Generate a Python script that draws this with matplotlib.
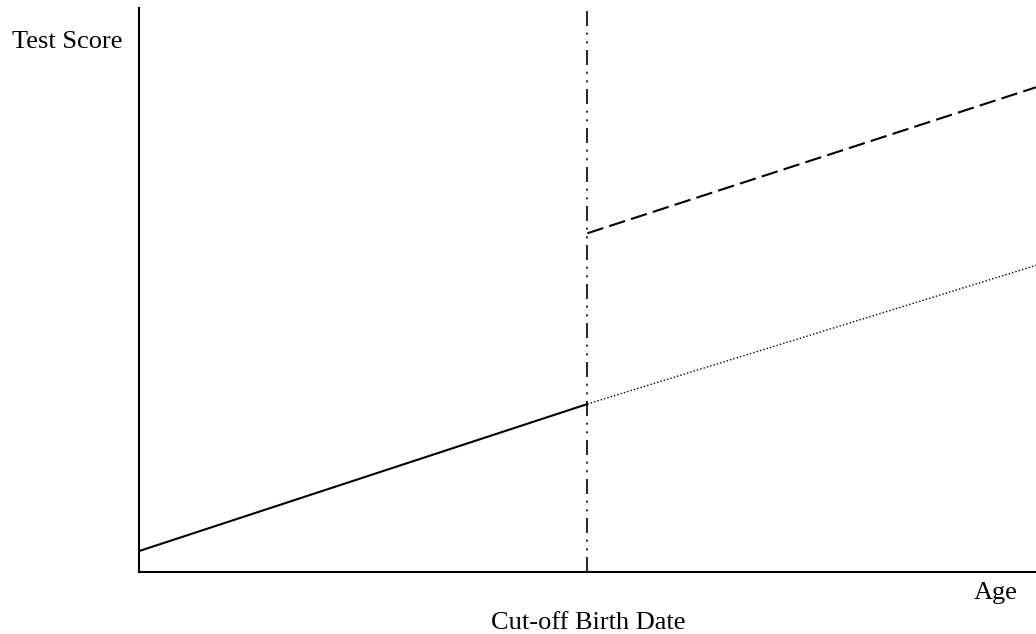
import matplotlib.pyplot as plt

plt.rcParams['font.family'] = ['Liberation Serif', 'DejaVu Serif']

# age axis runs 0..1, cut-off birth date halfway
cutoff = 0.5
x_before = [0.0, 0.5]
y_before = [3.7, 29.8]
x_after = [0.5, 1.0]
y_trend = [29.8, 54.4]     # continued trend (dotted)
y_jump = [60.1, 86.0]      # after cut-off (dashed)

fig = plt.figure(figsize=(10.36, 6.34), dpi=100)
ax = fig.add_axes([0.134, 0.0978, 0.866, 0.889])

ax.plot(x_before, y_before, color='black', lw=1.5, solid_capstyle='butt')
ax.plot(x_after, y_trend, color='black', lw=1.0, linestyle=(0, (1, 1.5)))
ax.plot(x_after, y_jump, color='black', lw=1.5, linestyle=(0, (8, 3)))
ax.axvline(cutoff, color='black', lw=1.2,
           linestyle=(0, (9, 4, 1.2, 4, 1.2, 4)))

ax.set_xlim(0, 1)
ax.set_ylim(0, 100)
ax.set_xticks([])
ax.set_yticks([])
for side in ['top', 'right']:
    ax.spines[side].set_visible(False)
for side in ['left', 'bottom']:
    ax.spines[side].set_linewidth(1.5)

fig.text(0.065, 0.933, 'Test Score', ha='center', va='center', fontsize=19)
fig.text(0.961, 0.065, 'Age', ha='center', va='center', fontsize=19)
fig.text(0.5676, 0.017, 'Cut-off Birth Date', ha='center', va='center', fontsize=19)

fig.savefig('out.png', dpi=100)
